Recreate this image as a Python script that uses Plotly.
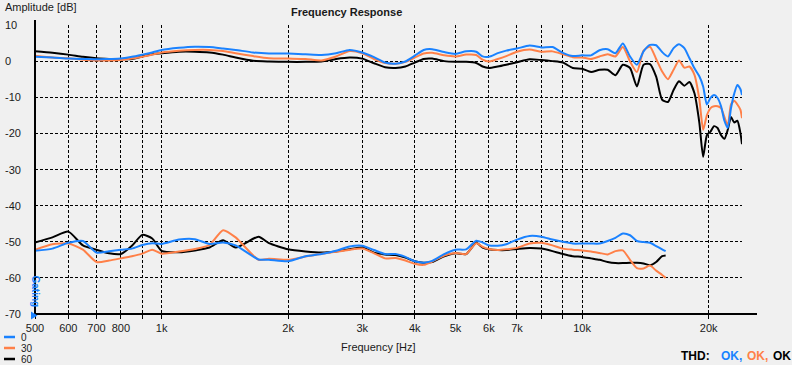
import math
import plotly.graph_objects as go

# ---------------- data ----------------
freq_fr = [500, 550, 600, 650, 700, 750, 800, 850, 900, 950, 1000, 1100, 1200, 1300, 1400, 1500, 1650, 1800,
           2000, 2200, 2400, 2600, 2800, 3000, 3200, 3400, 3600, 3800, 4000, 4200, 4400, 4700, 5000, 5300,
           5600, 5800, 6000, 6300, 6600, 7000, 7500, 8000, 8500, 9000, 9500, 10000, 10500, 11000, 11500,
           12000, 12500, 13000, 13500, 14000, 14500, 15000, 15500, 16000, 16500, 17000, 17500, 18000, 18500,
           19000, 19400, 19800, 20200, 20600, 21000, 21400, 21800, 22200, 22600, 23000, 23400, 23800, 24000]

fr_0 = [1.2, 1.0, 0.7, 0.6, 0.5, 0.6, 0.7, 1.2, 1.8, 2.4, 3.1, 3.7, 4.0, 3.9, 3.5, 3.1, 2.4, 2.1,
        2.1, 1.9, 1.7, 2.2, 3.1, 2.4, 1.1, -0.4, -0.7, -0.1, 1.5, 3.1, 3.3, 2.5, 2.0, 2.7,
        2.6, 1.3, 1.2, 2.2, 2.9, 3.5, 4.3, 3.8, 3.9, 2.3, 1.4, 1.6, 1.6, 3.0, 3.3,
        2.2, 4.9, 1.3, -1.0, 2.7, 4.5, 4.4, 2.5, 1.3, 3.6, 4.7, 3.6, 0.8, -2.0,
        -4.2, -7.0, -12.0, -10.2, -9.4, -10.2, -12.5, -16.5, -18.5, -13.0, -9.0, -6.6, -7.8, -9.4]

fr_30 = [1.5, 1.0, 0.8, 0.4, 0.2, 0.2, 0.3, 0.7, 1.2, 1.8, 2.4, 2.9, 3.1, 3.1, 2.8, 2.2, 1.4, 0.8,
         0.7, 0.6, 0.2, 1.3, 2.8, 2.2, 0.6, -0.5, -0.7, -0.2, 1.0, 2.1, 2.3, 1.6, 1.3, 1.8,
         1.7, 0.4, -0.1, 0.6, 1.4, 2.6, 3.2, 2.6, 2.7, 1.9, 1.1, 1.0, 0.6, 1.3, 1.9,
         1.3, 3.9, -0.1, -3.0, 2.9, 4.0, 0.6, -2.9, -5.0, -2.4, 0.2, -1.8, -1.5, -3.8,
         -10.5, -19.0, -15.0, -13.0, -12.5, -12.5, -13.0, -15.5, -17.8, -12.0, -11.0, -12.0, -13.5, -15.8]

fr_60 = [2.7, 2.3, 1.8, 1.2, 0.8, 0.6, 0.5, 0.6, 1.3, 1.9, 2.2, 2.6, 2.6, 2.4, 1.8, 1.0, 0.1, -0.1,
         -0.2, -0.2, -0.1, 0.6, 1.0, 0.7, -0.6, -1.7, -1.9, -1.5, -0.4, 0.6, 0.7, 0.0, -0.2, -0.2,
         -0.5, -1.5, -1.9, -1.5, -1.0, -0.3, 0.5, 0.3, 0.0, -0.4, -1.9, -2.1, -3.0, -2.4, -2.4,
         -3.9, -1.0, -1.9, -7.0, -1.0, -0.8, -4.3, -10.7, -11.3, -8.0, -5.6, -6.8, -5.8, -8.9,
         -17.0, -26.5, -20.5, -19.5, -18.0, -18.5, -20.5, -21.5, -19.0, -15.5, -17.0, -16.5, -20.0, -23.0]

freq_thd = [500, 550, 600, 650, 700, 750, 800, 850, 900, 950, 1000, 1100, 1200, 1300, 1400, 1500, 1700, 1800,
            2000, 2200, 2400, 2600, 2800, 3000, 3200, 3400, 3600, 3800, 4000, 4200, 4400, 4700, 5000, 5300,
            5600, 5800, 6000, 6300, 6600, 7000, 7500, 8000, 8500, 9000, 9500, 10000, 10500, 11000, 11500,
            12000, 12500, 13000, 13500, 14000, 14500, 15000, 15500, 15800]

thd_0 = [-52.5, -51.9, -50.3, -49.8, -53.0, -52.6, -52.2, -51.9, -50.9, -50.4, -50.6, -49.4, -49.3, -50.6, -50.2, -51.0, -54.9, -55.0,
         -55.4, -54.0, -53.4, -52.5, -51.3, -51.1, -52.3, -53.4, -53.4, -54.2, -55.4, -55.8, -55.3, -53.4, -52.2, -52.1,
         -49.7, -50.2, -51.0, -51.1, -50.7, -49.4, -48.4, -48.6, -49.4, -50.0, -50.5, -50.5, -50.5, -50.5, -49.8,
         -48.9, -47.7, -48.2, -49.8, -50.1, -50.3, -51.2, -52.1, -52.6]

thd_30 = [-52.2, -50.7, -50.5, -52.2, -55.6, -55.2, -54.6, -54.0, -53.3, -52.2, -53.3, -52.7, -52.0, -50.9, -46.8, -48.8, -55.0, -54.7,
          -55.0, -54.1, -53.3, -52.8, -52.2, -51.9, -53.2, -54.6, -54.5, -55.2, -56.1, -56.4, -55.5, -53.8, -53.1, -53.4,
          -50.4, -51.4, -52.0, -52.3, -52.1, -51.7, -50.5, -50.3, -51.0, -51.9, -52.2, -52.4, -52.7, -53.1, -53.5,
          -52.6, -52.4, -55.0, -57.3, -57.4, -56.6, -58.0, -59.2, -60.0]

thd_60 = [-50.2, -48.8, -47.2, -51.0, -52.2, -53.2, -53.4, -51.1, -48.1, -49.1, -52.5, -52.9, -52.4, -51.6, -49.6, -51.6, -48.6, -50.4,
          -52.1, -52.7, -53.0, -52.7, -52.1, -51.6, -53.0, -53.5, -53.7, -54.4, -55.4, -55.8, -55.6, -54.0, -53.2, -53.4,
          -50.3, -51.6, -52.1, -52.3, -52.3, -52.0, -51.7, -51.9, -52.6, -53.4, -54.0, -54.2, -54.6, -55.0, -55.6,
          -55.9, -55.9, -55.8, -55.8, -56.0, -56.5, -55.6, -54.0, -53.8]

x_tick_vals = [500, 600, 700, 800, 900, 1000, 2000, 3000, 4000, 5000, 6000, 7000, 8000, 9000, 10000, 20000]
x_tick_text = ["500", "600", "700", "800", "", "1k", "2k", "3k", "4k", "5k", "6k", "7k", "", "", "10k", "20k"]
y_tick_vals = [10, 0, -10, -20, -30, -40, -50, -60, -70]
y_tick_text = ["10", "0", "-10", "-20", "-30", "-40", "-50", "-60", "-70"]

series_names = ["0", "30", "60"]
colors = {"0": "#1A82FF", "30": "#FF8048", "60": "#000000"}

# ---------------- geometry helpers ----------------
L, R, T, B = 35, 742, 25, 314
W, H = 792, 365


def px(x):
    return (x - L) / (R - L)


def py(y):
    return (B - y) / (B - T)


fig = go.Figure()

upper = {"0": fr_0, "30": fr_30, "60": fr_60}
lower = {"0": thd_0, "30": thd_30, "60": thd_60}
for name in ["60", "30", "0"]:
    fig.add_trace(go.Scatter(x=freq_fr, y=upper[name], mode="lines", name=name,
                             line=dict(color=colors[name], width=2, shape="spline", smoothing=0.6),
                             showlegend=False, hoverinfo="skip"))
    fig.add_trace(go.Scatter(x=freq_thd, y=lower[name], mode="lines", name=name + " THD",
                             line=dict(color=colors[name], width=2, shape="spline", smoothing=0.6),
                             showlegend=False, hoverinfo="skip"))

font_family = "Liberation Sans, Arial, sans-serif"
txt = "#1a1a1a"

annotations = []
# y tick labels (left aligned)
for v, t in zip(y_tick_vals, y_tick_text):
    annotations.append(dict(x=px(3), xref="paper", y=v, yref="y", text=t, showarrow=False,
                            xanchor="left", yanchor="middle", font=dict(size=11, color=txt)))
annotations += [
    dict(x=px(3), y=py(7), xref="paper", yref="paper", text="Amplitude [dB]", showarrow=False,
         xanchor="left", yanchor="middle", font=dict(size=11, color=txt)),
    dict(x=px(346), y=py(12), xref="paper", yref="paper", text="<b>Frequency Response</b>", showarrow=False,
         xanchor="center", yanchor="middle", font=dict(size=11, color=txt)),
    dict(x=px(378), y=py(347), xref="paper", yref="paper", text="Frequency [Hz]", showarrow=False,
         xanchor="center", yanchor="middle", font=dict(size=11, color=txt)),
    dict(x=px(35.5), y=py(291), xref="paper", yref="paper", text="<b>Gating</b>", showarrow=False, textangle=90,
         xanchor="center", yanchor="middle", font=dict(size=10, color="#1A82FF")),
    dict(x=px(679), y=py(356), xref="paper", yref="paper", text="<b>THD:</b>", showarrow=False,
         xanchor="left", yanchor="middle", font=dict(size=12, color="#000000")),
    dict(x=px(719), y=py(356), xref="paper", yref="paper", text="<b>OK,</b>", showarrow=False,
         xanchor="left", yanchor="middle", font=dict(size=12, color=colors["0"])),
    dict(x=px(745), y=py(356), xref="paper", yref="paper", text="<b>OK,</b>", showarrow=False,
         xanchor="left", yanchor="middle", font=dict(size=12, color=colors["30"])),
    dict(x=px(771), y=py(356), xref="paper", yref="paper", text="<b>OK</b>", showarrow=False,
         xanchor="left", yanchor="middle", font=dict(size=12, color="#000000")),
]

shapes = [
    # axis lines (extend slightly beyond plot area as in reference)
    dict(type="line", xref="paper", yref="paper", x0=0, x1=px(757), y0=0, y1=0,
         line=dict(color="black", width=2)),
    dict(type="line", xref="paper", yref="paper", x0=0, x1=0, y0=0, y1=py(20),
         line=dict(color="black", width=2)),
    # gating marker
    dict(type="path", xref="paper", yref="paper",
         path=f"M {px(31)} {py(311.5)} L {px(37.5)} {py(315.5)} L {px(31)} {py(319.5)} Z",
         fillcolor="#1A82FF", line=dict(width=0)),
]

# legend
for i, name in enumerate(series_names):
    yy = 337 + i * 11
    shapes.append(dict(type="line", xref="paper", yref="paper", x0=px(4), x1=px(15), y0=py(yy), y1=py(yy),
                       line=dict(color=colors[name], width=2.5)))
    annotations.append(dict(x=px(19), y=py(yy), xref="paper", yref="paper", text=name, showarrow=False,
                            xanchor="left", yanchor="middle", font=dict(size=10, color=txt)))

fig.update_layout(
    width=W, height=H,
    margin=dict(l=L, r=W - R, t=T, b=H - B),
    paper_bgcolor="#F0F0F0", plot_bgcolor="#F0F0F0",
    font=dict(family=font_family, size=11, color=txt),
    showlegend=False,
    annotations=annotations,
    shapes=shapes,
    xaxis=dict(type="log", range=[math.log10(500), math.log10(24000)],
               tickvals=x_tick_vals, ticktext=x_tick_text,
               ticks="outside", ticklen=4, tickwidth=1, tickcolor="black",
               showgrid=True, gridcolor="black", gridwidth=1, griddash="3px,2px",
               showline=False, zeroline=False, tickfont=dict(size=11, color=txt)),
    yaxis=dict(range=[-70, 10], tickvals=y_tick_vals, showticklabels=False, ticks="",
               showgrid=True, gridcolor="black", gridwidth=1, griddash="3px,2px",
               showline=False, zeroline=False),
)

fig.write_html(
    "out.html",
    config={"displayModeBar": False, "staticPlot": True},
    post_script="document.body.style.margin='0';document.body.style.padding='0';"
                "document.body.style.background='#F0F0F0';document.body.style.overflow='hidden';",
)
